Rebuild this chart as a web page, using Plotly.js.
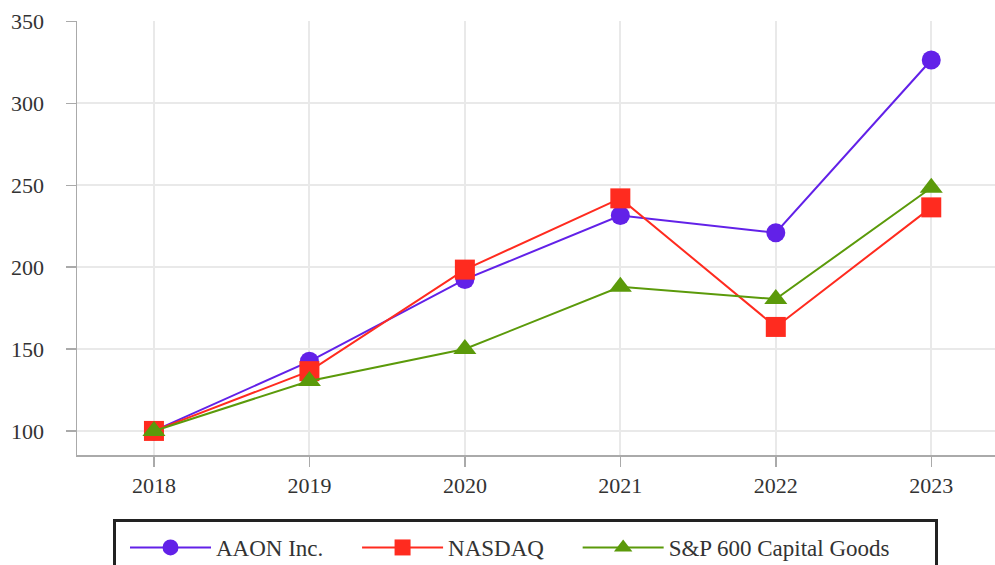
<!DOCTYPE html>
<html>
<head>
<meta charset="utf-8">
<script src="https://cdn.plot.ly/plotly-3.0.1.min.js"></script>
<style>html,body{margin:0;padding:0;background:#fff;}#chart{width:995px;height:565px;}</style>
</head>
<body>
<div id="chart"></div>
<script>
const years = [2018, 2019, 2020, 2021, 2022, 2023];
const aaon = [100, 142.5, 192.5, 231.5, 221, 326.5];
const nasdaq = [100, 136.5, 198.5, 242, 163.5, 236.5];
const sp600 = [100, 130.5, 150, 188, 180.5, 248.5];
const seriesNames = ["AAON Inc.", "NASDAQ", "S&P 600 Capital Goods"];
const yTicks = [100, 150, 200, 250, 300, 350];

const colors = ["#6221e8", "#ff2b1f", "#5b9a0a"];
const symbols = ["circle", "square", "triangle-up"];
const sizes = [19, 20, 20];
const pad = "\u00A0\u00A0\u00A0\u00A0\u00A0";
const data = [aaon, nasdaq, sp600].map((vals, i) => ({
  x: years, y: vals, name: seriesNames[i] + (i < 2 ? pad : ""), type: "scatter", mode: "lines+markers",
  line: {color: colors[i], width: 2},
  marker: {color: colors[i], symbol: symbols[i], size: sizes[i]}
}));

const font = {family: "Liberation Serif, Times New Roman, serif", size: 22, color: "#333"};
const legendFont = {family: "Liberation Serif, Times New Roman, serif", size: 23, color: "#333"};
const px = v => (v - 77) / 918;
const py = v => (455 - v) / 434;
const layout = {
  width: 995, height: 565,
  margin: {l: 77, r: 0, t: 21, b: 110, autoexpand: false},
  paper_bgcolor: "#fff", plot_bgcolor: "#fff",
  font: font,
  showlegend: true,
  xaxis: {
    range: [2017.505, 2023.41], tickvals: years, ticktext: years.map(String),
    showgrid: true, gridcolor: "#e9e9e9", gridwidth: 2,
    showline: true, linecolor: "#aaaaaa", linewidth: 1.5,
    ticks: "outside", ticklen: 10, tickwidth: 1.5, tickcolor: "#aaaaaa",
    zeroline: false, tickfont: font
  },
  yaxis: {
    range: [85.3, 350.3], tickvals: yTicks,
    showgrid: true, gridcolor: "#e9e9e9", gridwidth: 2,
    showline: true, linecolor: "#aaaaaa", linewidth: 1.5,
    ticks: "outside", ticklen: 10, tickwidth: 1.5, tickcolor: "#aaaaaa",
    zeroline: false, tickfont: font, ticklabelstandoff: 17
  },
  legend: {
    orientation: "h", x: px(125), xanchor: "left", y: py(526), yanchor: "top",
    borderwidth: 0, font: legendFont, itemwidth: 81,
    bgcolor: "rgba(0,0,0,0)"
  },
  shapes: [{
    type: "rect", xref: "paper", yref: "paper",
    x0: px(114.5), x1: px(936.5), y0: py(520.5), y1: py(640),
    line: {color: "#222", width: 3}, fillcolor: "rgba(0,0,0,0)", layer: "above"
  }]
};
Plotly.newPlot("chart", data, layout, {displayModeBar: false, staticPlot: true});
</script>
</body>
</html>
